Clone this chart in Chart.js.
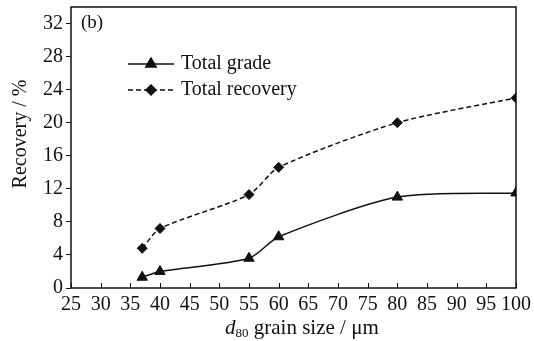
<!DOCTYPE html>
<html>
<head>
<meta charset="utf-8">
<script src="https://cdn.jsdelivr.net/npm/chart.js@4"></script>
<style>
    html, body { margin: 0; padding: 0; background: #fff; }
    .wrap { position: relative; width: 534px; height: 341px; }
    .x-title {
        position: absolute; left: 225px; top: 315px; white-space: nowrap;
        font-family: 'Liberation Serif', 'Times New Roman', serif; font-size: 21px; color: #111;
        line-height: 24px;
    }
    .x-title sub { font-size: 13px; vertical-align: -3px; line-height: 0; }
</style>
</head>
<body>
<div class="wrap">
    <canvas id="chart" width="534" height="341"></canvas>
    <div class="x-title"><i>d</i><sub>80</sub> grain size / μm</div>
</div>
<script>
// ===== DATA =====
const grainSize = [37, 40, 55, 60, 80, 100];
const totalGrade = [1.3, 2.0, 3.6, 6.2, 11.0, 11.5];
const totalRecovery = [4.8, 7.2, 11.3, 14.6, 20.0, 23.0];
const xTickValues = [25, 30, 35, 40, 45, 50, 55, 60, 65, 70, 75, 80, 85, 90, 95, 100];
const yTickValues = [0, 4, 8, 12, 16, 20, 24, 28, 32];

const serif = "'Liberation Serif', 'Times New Roman', serif";
const ink = '#111';

// frame, inward x ticks, axis title, panel label and legend
const decorPlugin = {
    id: 'decor',
    afterDraw(chart) {
        const ctx = chart.ctx;
        const area = chart.chartArea;
        const xs = chart.scales.x;
        ctx.save();
        ctx.strokeStyle = ink;
        ctx.lineWidth = 1.5;
        ctx.strokeRect(area.left, area.top, area.right - area.left, area.bottom - area.top);

        // x ticks point into the plot
        ctx.lineWidth = 1;
        xTickValues.forEach(v => {
            const px = Math.round(xs.getPixelForValue(v)) + 0.5;
            ctx.beginPath();
            ctx.moveTo(px, area.bottom);
            ctx.lineTo(px, area.bottom - 5);
            ctx.stroke();
        });

        ctx.fillStyle = ink;
        ctx.textBaseline = 'middle';

        // y axis title
        ctx.save();
        ctx.translate(21, 134);
        ctx.rotate(-Math.PI / 2);
        ctx.textAlign = 'center';
        ctx.font = '20px ' + serif;
        ctx.fillText('Recovery / %', 0, 0);
        ctx.restore();

        ctx.textAlign = 'left';
        ctx.font = '19px ' + serif;
        ctx.fillText('(b)', area.left + 10, area.top + 16);

        // legend
        const items = [
            { label: 'Total grade', dash: [], marker: 'triangle', y: area.top + 57 },
            { label: 'Total recovery', dash: [5, 3], marker: 'rectRot', y: area.top + 83 }
        ];
        items.forEach(it => {
            ctx.setLineDash(it.dash);
            ctx.lineWidth = 1.5;
            ctx.beginPath();
            ctx.moveTo(128, it.y);
            ctx.lineTo(174, it.y);
            ctx.stroke();
            ctx.setLineDash([]);
            Chart.helpers.drawPoint(ctx, { pointStyle: it.marker, radius: it.marker === 'triangle' ? 6 : 5, borderWidth: 1 }, 151, it.y);
            ctx.fill();
            ctx.font = '20px ' + serif;
            ctx.fillText(it.label, 181, it.y);
        });
        ctx.restore();
    }
};

new Chart(document.getElementById('chart'), {
    type: 'line',
    data: {
        datasets: [
            {
                label: 'Total grade',
                data: grainSize.map((x, i) => ({ x: x, y: totalGrade[i] })),
                borderColor: ink,
                backgroundColor: ink,
                borderWidth: 1.5,
                tension: 0.25,
                pointStyle: 'triangle',
                pointRadius: 6,
                pointBorderWidth: 1
            },
            {
                label: 'Total recovery',
                data: grainSize.map((x, i) => ({ x: x, y: totalRecovery[i] })),
                borderColor: ink,
                backgroundColor: ink,
                borderWidth: 1.5,
                borderDash: [5, 3],
                tension: 0.25,
                pointStyle: 'rectRot',
                pointRadius: 5,
                pointBorderWidth: 1
            }
        ]
    },
    options: {
        responsive: false,
        animation: false,
        layout: { padding: { left: 0, right: 18, top: 5, bottom: 0 } },
        plugins: {
            legend: { display: false },
            tooltip: { enabled: false }
        },
        scales: {
            x: {
                type: 'linear',
                min: 25,
                max: 100,
                afterBuildTicks: scale => { scale.ticks = xTickValues.map(v => ({ value: v })); },
                afterFit: scale => {
                    scale.height = 53;
                    scale.paddingLeft = 0;
                    scale.paddingRight = 0;
                },
                grid: { display: false, drawTicks: false },
                border: { display: false },
                ticks: {
                    padding: 5,
                    maxRotation: 0,
                    autoSkip: false,
                    color: ink,
                    font: { family: serif, size: 20 }
                }
            },
            y: {
                min: 0,
                max: 34,
                afterBuildTicks: scale => { scale.ticks = yTickValues.map(v => ({ value: v })); },
                afterFit: scale => {
                    scale.width = 71;
                    scale.paddingTop = 0;
                    scale.paddingBottom = 0;
                },
                grid: { drawOnChartArea: false, tickLength: 5, color: ink },
                border: { display: false },
                ticks: {
                    padding: 3,
                    color: ink,
                    font: { family: serif, size: 20 }
                }
            }
        }
    },
    plugins: [decorPlugin]
});
</script>
</body>
</html>
